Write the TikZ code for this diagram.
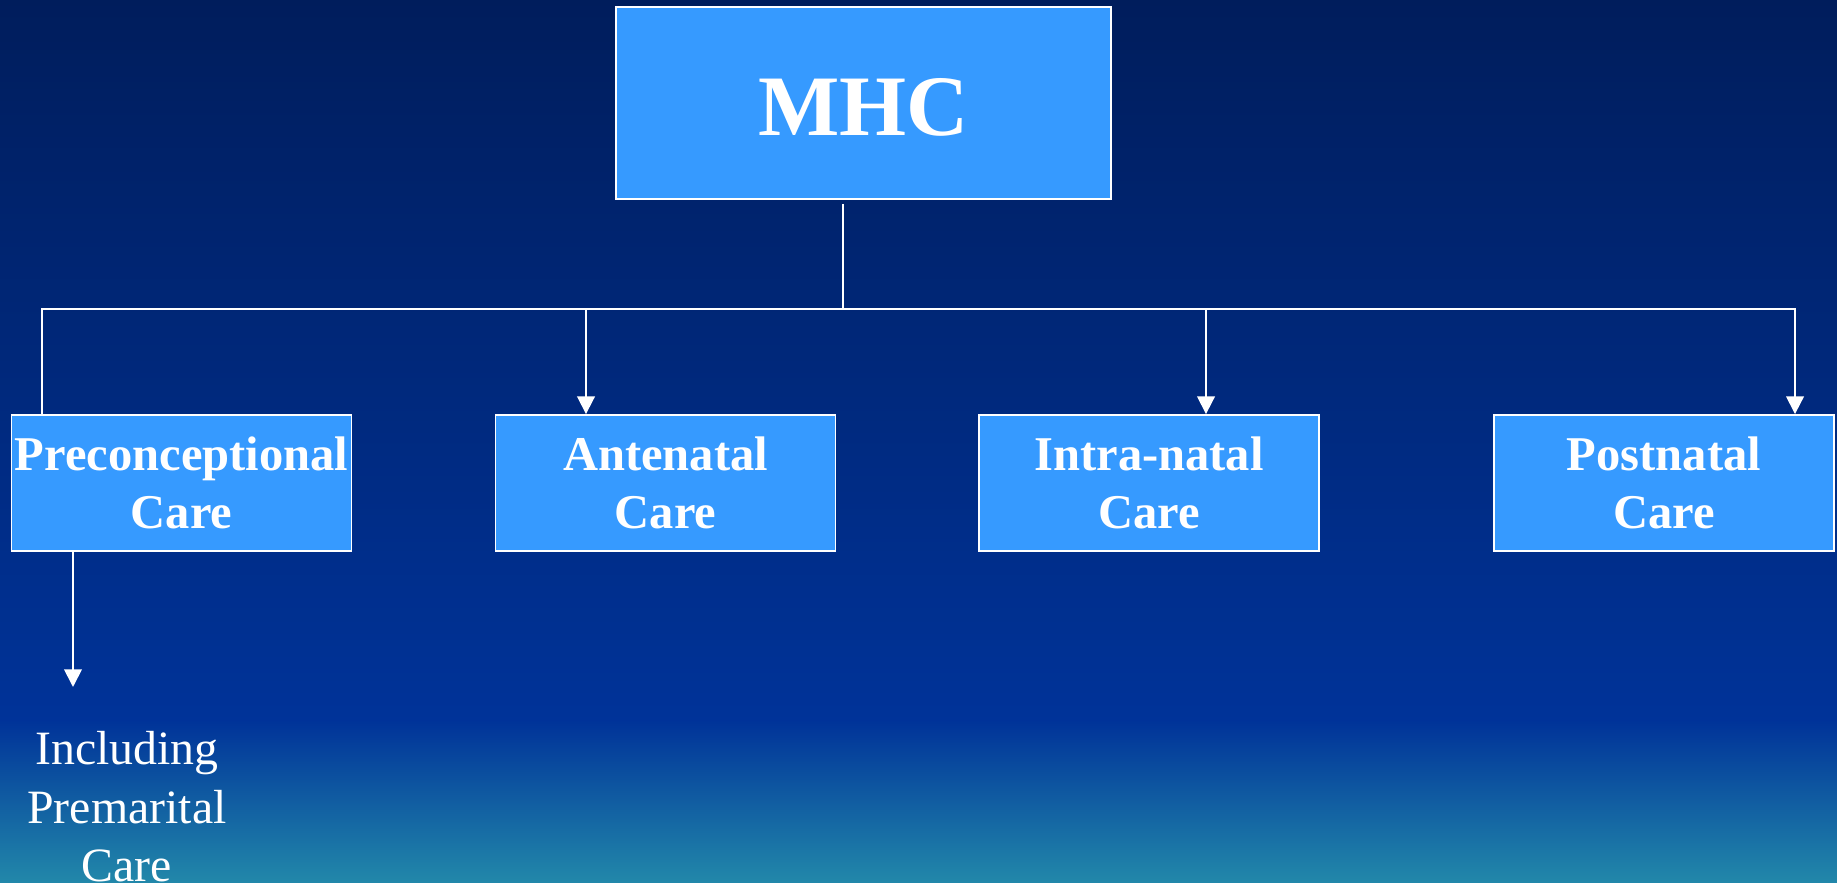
\documentclass[tikz,border=0pt]{standalone}
\usepackage{fontspec}
\setmainfont{Liberation Serif}
\usepackage{tikz}
\usepackage{xcolor}
\usetikzlibrary{arrows.meta, positioning, calc}

\definecolor{topnavy}{RGB}{0,29,92}
\definecolor{midblue}{RGB}{0,51,153}
\definecolor{lowteal}{RGB}{34,136,170}
\definecolor{boxblue}{RGB}{54,154,255}

\begin{document}
\begin{tikzpicture}[x=0.01cm, y=-0.01cm,
    carebox/.style={draw=white, line width=0.5pt, fill=boxblue, text=white,
        font=\fontsize{13.8}{16.3}\selectfont\bfseries, align=center,
        minimum width=3.4cm, minimum height=1.36cm, inner sep=0pt},
    link/.style={draw=white, line width=0.5pt},
    arrow/.style={link, -{Triangle[width=5pt,length=5pt]}}]
% Background
\useasboundingbox (0,0) rectangle (1837,883);
\shade[top color=topnavy, bottom color=midblue] (0,0) rectangle (1837,722);
\shade[top color=midblue, bottom color=lowteal] (0,721) rectangle (1837,883);
% Boxes
\node[carebox, minimum width=4.95cm, minimum height=1.92cm,
      text height=18.6pt, text depth=0pt,
      font=\fontsize{24.5}{28}\selectfont\bfseries] (mhc) at (863.5,103) {MHC};
\node[carebox] (pre) at (181.5,483) {Preconceptional\\Care};
\node[carebox] (ante) at (665.5,483) {Antenatal\\Care};
\node[carebox] (intra) at (1149,483) {Intra-natal\\Care};
\node[carebox] (post) at (1664,483) {Postnatal\\Care};
\node[text=white, font=\fontsize{13.6}{16.6}\selectfont, align=center]
    (incl) at (127,807) {Including\\Premarital\\Care};
% Connectors
\coordinate (stem) at (843,204);
\coordinate (barL) at (42,309);
\coordinate (barR) at (1795,309);
\coordinate (tA) at (586,309);
\coordinate (tI) at (1206,309);
\coordinate (pdown) at (73,551);
\coordinate (pend) at (73,687);
\draw[link] (stem) -- (stem |- barL);
\draw[arrow] (barL |- pre.north) -- (barL) -- (barR) -- (barR |- post.north);
\draw[arrow] (tA) -- (tA |- ante.north);
\draw[arrow] (tI) -- (tI |- intra.north);
\draw[arrow] (pdown) -- (pend);
\end{tikzpicture}
\end{document}
